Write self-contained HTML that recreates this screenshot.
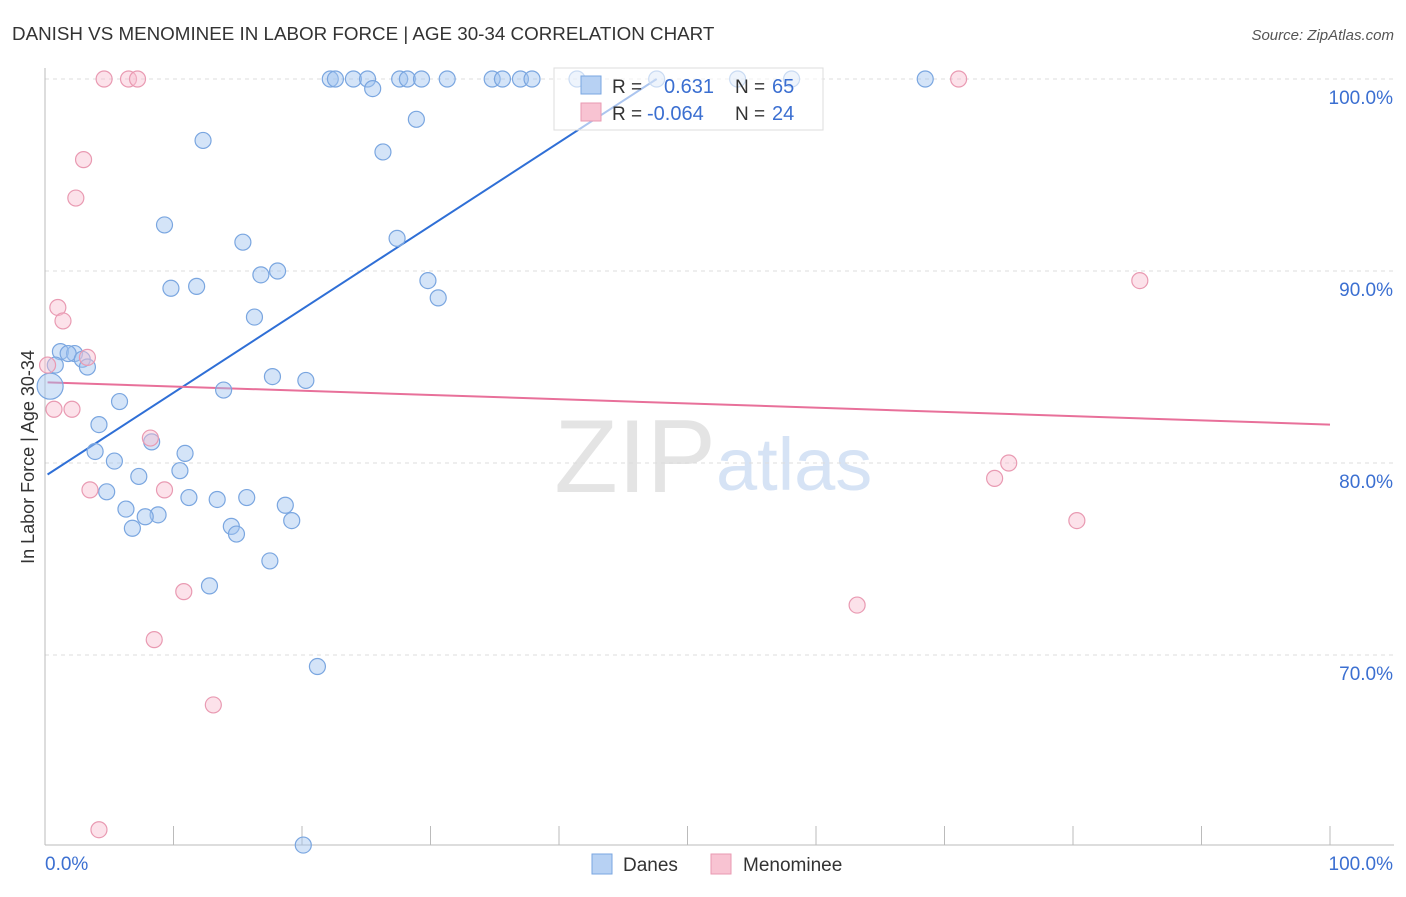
<!DOCTYPE html>
<html><head><meta charset="utf-8"><style>
body{margin:0;background:#fff;font-family:"Liberation Sans",sans-serif;}
svg text{font-family:"Liberation Sans",sans-serif;}
</style></head><body>
<svg width="1406" height="892" xmlns="http://www.w3.org/2000/svg">
<text x="12" y="40" font-size="18.8" fill="#333">DANISH VS MENOMINEE IN LABOR FORCE | AGE 30-34 CORRELATION CHART</text>
<text x="1394" y="40" font-size="15" fill="#555" font-style="italic" text-anchor="end">Source: ZipAtlas.com</text>
<text x="716" y="492" font-size="104" fill="#e4e4e4" text-anchor="end" font-family="Liberation Serif">ZIP</text>
<text x="716" y="490" font-size="74" fill="#d6e3f5">atlas</text>
<g id="grid"></g>
<g id="axes"></g>
<text transform="translate(34,457) rotate(-90)" font-size="18" fill="#333" text-anchor="middle">In Labor Force | Age 30-34</text>
<g id="lines"></g>
<g id="pts"></g>
<g>
<rect x="554" y="68" width="269" height="62" fill="rgba(255,255,255,0.6)" stroke="#ddd"/>
<rect x="581" y="76" width="20" height="18" fill="#b7d1f3" stroke="#7aa6e0"/>
<rect x="581" y="103" width="20" height="18" fill="#f8c3d2" stroke="#e99ab2"/>
<text x="612" y="93" font-size="19" fill="#333">R = </text><text x="664" y="93" font-size="20" fill="#3b6fd1">0.631</text>
<text x="735" y="93" font-size="19" fill="#333">N = </text><text x="772" y="93" font-size="20" fill="#3b6fd1">65</text>
<text x="612" y="120" font-size="19" fill="#333">R = </text><text x="647" y="120" font-size="20" fill="#3b6fd1">-0.064</text>
<text x="735" y="120" font-size="19" fill="#333">N = </text><text x="772" y="120" font-size="20" fill="#3b6fd1">24</text>
</g>
<g>
<rect x="592" y="854" width="20" height="20" fill="#b7d1f3" stroke="#7aa6e0"/>
<text x="623" y="871" font-size="19" fill="#333">Danes</text>
<rect x="711" y="854" width="20" height="20" fill="#f8c3d2" stroke="#e99ab2"/>
<text x="743" y="871" font-size="19" fill="#333">Menominee</text>
</g>
</svg>
<script>
const yTicks=[100,90,80,70];
const yTickLabels=["100.0%","90.0%","80.0%","70.0%"];
const xTickLabels=["0.0%","100.0%"];
const danesX=[22.2,22.6,24,25.1,25.5,27.6,28.2,29.3,31.3,34.8,35.6,37,37.9,41.4,47.6,53.9,58.1,68.5,12.3,28.9,26.3,9.3,15.4,27.4,9.8,11.8,16.8,18.1,29.8,30.6,16.3,1.2,2.3,1.8,2.9,3.3,0.8,0.4,17.7,20.3,13.9,5.8,4.2,8.3,10.9,3.9,5.4,10.5,7.3,4.8,11.2,13.4,15.7,18.7,6.3,8.8,7.8,19.2,14.5,6.8,14.9,17.5,12.8,21.2,20.1];
const danesY=[100,100,100,100,99.5,100,100,100,100,100,100,100,100,100,100,100,100,100,96.8,97.9,96.2,92.4,91.5,91.7,89.1,89.2,89.8,90,89.5,88.6,87.6,85.8,85.7,85.7,85.4,85,85.1,84,84.5,84.3,83.8,83.2,82,81.1,80.5,80.6,80.1,79.6,79.3,78.5,78.2,78.1,78.2,77.8,77.6,77.3,77.2,77,76.7,76.6,76.3,74.9,73.6,69.4,60.1];
const menX=[4.6,6.5,7.2,71.1,3,2.4,1,1.4,3.3,0.2,0.7,2.1,8.2,9.3,3.5,10.8,8.5,13.1,4.2,85.2,75,73.9,80.3,63.2];
const menY=[100,100,100,100,95.8,93.8,88.1,87.4,85.5,85.1,82.8,82.8,81.3,78.6,78.6,73.3,70.8,67.4,60.9,89.5,80,79.2,77,72.6];
const danesLine=[[0.2,79.4],[47.6,100]];
const menLine=[[0.2,84.2],[100,82]];
const X=v=>45+v*12.85, Y=v=>79+(100-v)*19.2;
const NS="http://www.w3.org/2000/svg";
function mk(t,a,p){const e=document.createElementNS(NS,t);for(const k in a)e.setAttribute(k,a[k]);p.appendChild(e);return e;}
const grid=document.getElementById('grid'),axes=document.getElementById('axes');
yTicks.forEach((v,i)=>{
 const l=mk('line',{x1:45,x2:1394,y1:Y(v),y2:Y(v),stroke:'#ddd','stroke-dasharray':'4,4'},grid);
 
 
 const t=mk('text',{x:1393,y:Y(v)+25,'font-size':19,fill:'#3b6fd1','text-anchor':'end'},axes);
 t.textContent=yTickLabels[i];
 
 
});
mk('line',{x1:45,x2:45,y1:68,y2:845,stroke:'#bbb'},axes);
mk('line',{x1:45,x2:1394,y1:845,y2:845,stroke:'#bbb'},axes);
for(let i=0;i<=10;i++){const tk=mk('line',{x1:X(i*10),x2:X(i*10),y1:826,y2:845,stroke:'#bbb'},axes);
 
 }
[[X(0),'start'],[X(100)+63,'end']].forEach((p,i)=>{const t=mk('text',{x:p[0],y:870,'font-size':19,fill:'#3b6fd1','text-anchor':p[1]},axes);t.textContent=xTickLabels[i];
 
 });
const pts=document.getElementById('pts');
danesX.forEach((x,i)=>{const c=mk('circle',{cx:X(x),cy:Y(danesY[i]),r:i==37?13:8,fill:'rgba(160,195,240,0.45)',stroke:'#7aa6e0','stroke-width':1.2},pts);
 
 });
menX.forEach((x,i)=>{const c=mk('circle',{cx:X(x),cy:Y(menY[i]),r:8,fill:'rgba(248,190,208,0.45)',stroke:'#e99ab2','stroke-width':1.2},pts);
 
 });
const lines=document.getElementById('lines');
const l1=mk('line',{x1:X(danesLine[0][0]),y1:Y(danesLine[0][1]),x2:X(danesLine[1][0]),y2:Y(danesLine[1][1]),stroke:'#2f6fd6','stroke-width':2},lines);


const l2=mk('line',{x1:X(menLine[0][0]),y1:Y(menLine[0][1]),x2:X(menLine[1][0]),y2:Y(menLine[1][1]),stroke:'#e8709a','stroke-width':2},lines);


</script>
</body></html>
